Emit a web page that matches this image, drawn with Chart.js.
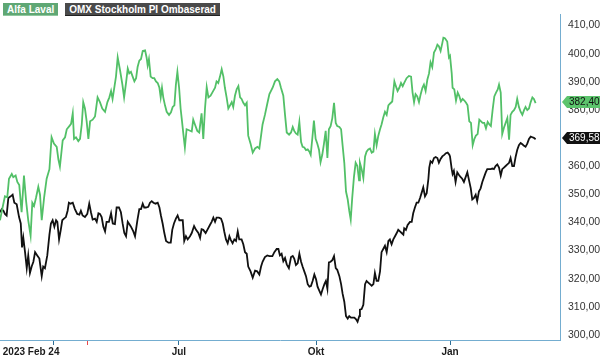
<!DOCTYPE html>
<html><head><meta charset="utf-8">
<script src="https://cdn.jsdelivr.net/npm/chart.js@4.4.1/dist/chart.umd.min.js"></script>
<style>
html,body{margin:0;padding:0;background:#fff;}
#wrap{position:relative;width:600px;height:358px;overflow:hidden;}
#legend{position:absolute;left:3px;top:3px;display:flex;gap:7px;font:bold 10px "Liberation Sans",Arial,sans-serif;}
#legend span{display:block;height:13px;line-height:13px;padding:0 4px;color:#fff;box-sizing:border-box;}
</style></head><body>
<div id="wrap"><canvas id="c" width="600" height="358"></canvas><div id="legend"></div></div>
<script>
const seriesNames = ['Alfa Laval', 'OMX Stockholm PI Ombaserad'];

// trading sessions (x) and closing values (y)
const alfaSessions = [0.0,1.2,2.3,3.4,4.2,5.5,6.2,7.3,8.1,9.0,10.1,11.2,12.2,13.2,14.3,15.1,15.9,16.8,17.9,18.7,19.5,20.6,21.8,23.1,24.1,25.2,26.5,27.3,28.0,29.3,30.4,31.2,32.4,33.2,34.0,34.6,35.5,36.6,37.4,38.2,38.9,39.7,40.5,41.3,42.1,43.3,44.4,
44.9,45.6,46.7,47.8,49.1,50.2,51.1,51.9,52.6,53.4,54.2,55.0,56.1,57.2,58.0,58.9,59.7,60.4,61.2,62.0,62.8,63.6,64.3,65.1,65.9,66.7,67.8,68.5,69.0,69.6,70.4,71.3,72.1,72.9,73.7,74.5,75.1,75.7,76.3,77.1,77.9,79.0,79.9,80.7,81.5,82.2,82.9,83.7,84.4,
84.9,85.7,86.4,87.2,88.3,89.6,90.3,91.1,92.2,93.1,94.2,95.0,95.8,96.6,97.4,98.4,99.4,100.5,101.2,102.0,102.8,103.6,104.4,105.1,105.9,106.7,107.5,108.3,109.0,109.8,110.6,111.4,112.2,112.9,113.7,114.5,115.3,116.0,117.1,118.1,119.2,120.3,121.2,122.0,122.7,123.8,124.9,125.9,
127.4,128.5,129.6,130.5,131.3,132.4,133.2,134.0,135.1,136.0,136.8,137.5,138.3,139.1,139.9,140.7,141.4,142.2,143.0,143.8,144.6,145.2,146.0,146.7,147.5,148.3,149.1,149.8,150.6,151.4,152.2,153.0,153.7,154.5,155.3,156.1,156.9,157.6,158.6,159.4,160.1,160.9,161.7,162.5,163.2,163.9,164.6,165.4,166.2,167.0,167.8,
168.2,169.0,169.8,170.6,171.3,172.1,172.9,173.7,174.5,175.2,176.0,176.8,177.6,178.3,179.1,179.9,180.7,181.5,182.2,183.3,184.3,185.0,185.8,186.6,187.4,188.2,188.9,190.0,191.1,192.1,192.8,193.5,194.2,195.0,195.8,196.6,197.4,198.1,198.9,199.7,200.5,201.2,202.0,202.8,203.6,204.4,205.1,205.9,206.7,207.2,207.9,209.0,209.8,
210.3,211.1,211.5,212.3,213.1,213.9,214.6,215.4,216.2,217.0,217.8,218.5,219.3,220.1,220.9,221.7,222.4,223.2,224.0,224.8,225.5,226.3,227.1,227.9,228.7,229.4,230.2,231.0,231.8,232.6,233.2,234.0,234.7,235.5,236.3,237.1,237.9,238.6,239.4,240.2,241.0,241.7,242.5,243.3,244.1,244.9,245.6,246.4,247.2,248.0,248.8,249.5,250.3];
const alfaLaval = [340.77,345.31,349.28,348.94,355.53,357.23,356.09,356.66,354.39,353.26,343.61,356.66,347.58,340.77,335.32,347.01,345.88,348.71,352.69,349.85,340.77,348.71,355.53,358.93,370.28,368.01,366.88,362.34,359.84,369.15,370.28,373.12,374.26,375.05,378.80,369.72,370.28,368.92,369.72,374.82,382.77,380.50,375.96,369.72,375.96,376.53,377.66,
380.50,384.47,382.77,380.50,379.36,382.77,384.47,386.74,383.91,387.88,391.85,398.66,394.12,389.01,384.47,389.58,394.69,392.99,393.55,391.85,390.15,391.28,395.26,397.53,398.10,400.93,401.16,398.66,395.83,398.10,391.85,391.28,391.28,390.15,389.58,387.88,384.47,387.88,384.47,381.64,379.36,378.23,379.14,381.07,381.64,389.01,393.55,387.88,380.50,
377.09,371.42,366.65,373.12,372.78,372.33,376.53,374.82,372.55,371.99,378.80,369.72,380.50,388.11,384.47,385.04,386.40,387.88,390.15,389.58,391.85,394.46,391.85,387.88,384.47,380.50,381.64,382.77,381.07,385.04,387.31,388.45,384.47,383.91,382.54,381.64,382.54,370.85,368.01,364.83,366.31,366.88,366.31,370.85,374.82,378.23,382.20,385.61,
387.88,390.15,390.94,390.15,387.88,385.04,378.23,371.99,371.19,371.99,373.92,372.55,371.65,371.19,375.73,368.58,366.88,366.65,365.74,365.97,365.17,364.04,370.28,376.19,369.72,368.01,365.74,361.43,364.04,368.01,372.55,362.90,373.12,374.26,377.09,382.54,375.39,374.26,373.92,373.12,367.45,361.20,350.98,348.15,344.17,341.00,348.71,356.09,361.20,360.07,354.96,
361.20,358.93,355.75,363.47,365.17,365.97,366.31,364.83,365.17,371.42,367.45,370.85,373.12,374.82,377.32,379.36,378.23,381.64,382.20,383.00,390.15,388.45,386.74,387.88,389.58,388.45,389.58,391.28,392.08,391.85,386.18,382.77,385.61,384.81,382.77,385.61,387.88,389.01,386.74,390.72,392.99,396.96,395.26,400.37,401.50,403.20,402.64,400.93,403.77,405.70,405.47,404.34,398.66,
399.23,392.99,387.88,387.31,383.34,386.18,385.04,383.00,383.91,383.34,382.54,381.64,375.96,375.39,367.45,369.72,370.85,371.42,376.53,375.96,375.39,375.39,373.46,375.73,374.82,374.26,379.93,384.81,386.18,387.31,389.01,386.18,371.42,373.69,375.39,377.09,369.38,378.23,379.36,379.93,381.07,383.91,381.07,379.36,378.23,379.93,381.07,379.93,380.50,382.77,384.47,383.91,382.40];

const omxSessions = [0.0,0.8,1.6,2.3,3.1,3.9,5.0,5.9,6.7,7.8,8.9,9.7,10.3,10.9,11.7,12.5,13.2,14.0,14.8,15.6,16.4,17.4,18.4,19.5,20.2,21.0,22.1,23.1,23.8,24.6,25.4,26.2,26.8,27.6,28.4,29.1,29.9,30.8,31.6,32.2,33.0,34.0,35.0,36.1,37.1,37.8,38.6,39.7,40.8,41.7,42.5,43.3,44.4,
45.2,46.0,46.7,47.5,48.3,49.1,49.8,50.9,51.9,52.7,53.7,54.5,55.6,56.5,57.3,58.1,58.9,59.7,60.4,61.2,62.3,63.1,64.2,65.1,65.9,66.7,67.4,68.2,69.3,70.1,70.9,71.7,72.7,73.7,74.5,75.2,76.0,76.8,77.6,78.7,79.8,80.5,81.3,82.2,83.0,83.8,
85.4,86.1,86.9,87.7,88.8,89.6,90.7,91.6,92.7,93.5,94.2,95.0,96.1,96.9,98.1,98.9,99.7,100.5,101.2,102.3,103.3,104.1,104.8,105.6,106.4,107.2,107.9,108.7,109.5,110.3,111.1,111.8,112.9,113.7,114.5,115.3,116.0,117.1,118.1,119.2,120.2,121.2,122.0,122.7,123.8,124.9,125.9,
127.3,128.2,129.3,130.1,130.8,131.6,132.4,133.2,134.0,135.0,136.0,136.8,137.5,138.3,139.1,139.9,140.7,141.4,142.2,143.0,143.8,144.6,145.3,146.1,146.9,147.7,148.4,149.2,150.0,150.8,151.6,152.3,153.0,153.7,154.5,155.3,156.1,156.9,157.6,158.6,159.4,160.1,160.9,161.7,162.5,163.2,164.0,164.8,165.6,166.4,167.1,167.9,
168.2,169.0,169.8,170.6,171.3,172.1,172.9,173.7,174.5,175.2,176.0,176.8,177.6,178.3,179.1,179.9,180.7,181.5,182.2,183.0,183.8,184.6,185.4,186.1,186.9,187.7,188.5,188.9,189.7,190.5,191.6,192.4,193.1,193.9,194.7,195.5,196.3,197.0,197.8,198.6,199.4,200.2,200.6,201.2,202.0,202.8,203.6,204.4,205.1,205.9,206.7,207.6,208.4,209.2,210.0,
210.3,211.1,211.5,212.1,212.9,213.7,214.5,215.3,216.0,216.8,217.6,218.4,219.2,220.0,220.7,221.5,222.3,223.0,223.8,224.6,225.4,226.2,227.0,227.7,228.5,229.3,230.1,230.8,231.6,232.4,233.2,234.0,234.7,235.5,236.3,237.1,237.9,238.6,239.4,240.2,241.0,241.7,242.5,243.3,244.1,244.9,245.6,246.4,247.2,248.0,248.8,249.5,250.3];
const omxRebased = [343.61,344.74,344.17,343.04,342.47,348.71,349.28,349.85,347.01,346.44,341.90,339.63,331.12,334.52,329.42,323.74,328.28,322.04,324.31,326.01,329.42,328.28,327.15,320.90,324.31,323.74,328.28,335.66,339.63,340.77,338.50,340.77,340.20,333.96,337.36,340.77,341.34,341.90,344.17,347.01,346.67,347.01,344.74,343.04,342.81,344.17,342.47,341.90,343.04,346.67,343.61,341.00,341.34,
340.20,343.27,343.04,341.90,338.50,336.79,340.20,340.20,343.27,339.63,339.41,345.31,345.31,343.61,339.63,336.23,335.09,340.20,339.41,338.50,336.79,335.09,340.77,344.74,344.74,346.67,345.31,345.31,345.54,347.01,347.58,347.01,346.67,347.01,345.31,342.47,339.63,336.23,333.39,332.82,332.82,337.36,339.63,341.34,342.47,340.77,
340.77,333.39,335.09,333.96,335.09,336.23,338.72,337.36,336.23,334.52,337.59,337.36,336.23,337.36,339.07,340.20,341.68,340.20,341.68,341.68,341.34,339.63,336.79,333.96,332.59,335.09,333.73,332.59,333.96,333.39,336.79,333.96,333.96,332.25,329.42,328.85,324.31,322.60,320.33,322.83,322.60,321.47,324.31,326.01,327.71,328.28,328.05,
328.05,329.42,330.55,330.55,328.28,328.85,326.24,327.37,325.10,323.74,327.71,328.05,327.15,324.88,325.44,328.85,326.01,324.31,322.60,320.90,318.06,317.16,317.38,319.20,321.47,319.77,317.16,315.79,314.43,316.36,318.06,319.20,316.36,325.78,326.01,326.58,328.05,323.74,323.17,320.90,318.06,314.66,311.82,306.71,305.80,306.71,306.14,306.14,306.14,305.58,304.67,306.71,
308.98,309.21,310.69,318.06,319.20,318.63,318.06,317.50,318.06,322.04,319.20,319.20,322.60,329.42,330.55,331.69,329.42,333.39,333.96,332.25,333.96,335.09,336.23,337.36,336.79,336.23,335.66,337.93,337.36,339.07,340.20,340.20,343.27,345.31,347.01,347.01,348.71,350.42,352.46,349.28,350.42,355.53,359.50,361.77,361.20,362.90,363.24,362.90,361.20,362.56,363.47,364.04,364.61,364.83,364.04,
363.47,358.93,357.23,358.36,354.39,357.80,356.89,356.09,355.53,354.39,356.09,357.80,354.96,352.12,348.15,348.71,349.85,347.58,350.98,352.12,354.39,356.09,357.80,358.93,358.93,358.93,359.16,358.93,360.07,360.63,359.50,356.66,358.93,359.50,360.07,360.63,361.20,362.90,360.07,360.07,363.47,365.74,367.45,368.24,367.79,367.22,366.88,368.01,369.72,370.51,370.28,370.06,369.58];

const xTickSessions = [25.2, 83.6, 147.7, 210.3];
const xTickLabels = ['2023 Feb 24', 'Jul', 'Okt', 'Jan'];
const markerSessions = [40.7];
const yTickValues = [300, 310, 320, 330, 340, 350, 360, 370, 380, 390, 400, 410];

const FONT = '"Liberation Sans", Arial, sans-serif';
const lineColors = ['#52c067', '#111111'];
const legendColors = ['#5fa774', '#4a4a4a'];
const tagColors = ['#5cc46c', '#111111'];
const tagText = ['#111111', '#ffffff'];

const fmt = v => v.toFixed(2).replace('.', ',');

const overlay = {
  id: 'overlay',
  afterDraw(chart) {
    const ctx = chart.ctx, xs = chart.scales.x, ys = chart.scales.y;
    ctx.save();
    ctx.font = 'bold 10px ' + FONT;
    ctx.fillStyle = '#1b1b1b';
    ctx.textBaseline = 'middle';
    ctx.textAlign = 'left';
    xTickSessions.forEach((s, i) => {
      const t = xTickLabels[i];
      const words = t.split(' ');
      const lastW = ctx.measureText(words[words.length - 1]).width;
      const w = ctx.measureText(t).width;
      // the last word (day or month) is centred on its tick
      let x = xs.getPixelForValue(s) + lastW / 2 - w;
      x = Math.max(2, Math.min(chart.width - w - 2, x));
      ctx.fillText(t, x, xs.bottom - 6);
    });
    // last value tags
    ctx.font = '10px ' + FONT;
    chart.data.datasets.forEach((ds, i) => {
      const last = ds.data[ds.data.length - 1].y;
      const y = Math.round(ys.getPixelForValue(last)) - 1;
      const x0 = chart.chartArea.right + 2;
      ctx.fillStyle = tagColors[i];
      ctx.beginPath();
      ctx.moveTo(x0, y);
      ctx.lineTo(x0 + 5, y - 6);
      ctx.lineTo(chart.width, y - 6);
      ctx.lineTo(chart.width, y + 6);
      ctx.lineTo(x0 + 5, y + 6);
      ctx.closePath();
      ctx.fill();
      ctx.fillStyle = tagText[i];
      ctx.fillText(fmt(last), x0 + 7, y + 0.5);
    });
    ctx.restore();
  }
};

const chart = new Chart(document.getElementById('c'), {
  type: 'line',
  data: {
    datasets: [
      { label: seriesNames[0], data: alfaSessions.map((s, i) => ({ x: s, y: alfaLaval[i] })),
        borderColor: lineColors[0], borderWidth: 1.8, pointRadius: 0, tension: 0, fill: false },
      { label: seriesNames[1], data: omxSessions.map((s, i) => ({ x: s, y: omxRebased[i] })),
        borderColor: lineColors[1], borderWidth: 1.8, pointRadius: 0, tension: 0, fill: false }
    ]
  },
  options: {
    responsive: false,
    animation: false,
    devicePixelRatio: 1,
    layout: { padding: 0 },
    plugins: { legend: { display: false }, tooltip: { enabled: false } },
    scales: {
      x: {
        type: 'linear', position: 'bottom', min: 0, max: 261.7,
        afterBuildTicks: sc => { sc.ticks = xTickSessions.concat(markerSessions).map(v => ({ value: v })); },
        afterFit: sc => { sc.height = 18; },
        ticks: { display: false },
        grid: { display: true, drawOnChartArea: false, drawTicks: true, tickLength: 5, lineWidth: 1,
          color: '#2f6f96',
          tickColor: c => (c.tick && markerSessions.includes(c.tick.value)) ? '#e8474c' : '#2f6f96' },
        border: { display: true, color: '#74add0', width: 1 }
      },
      y: {
        position: 'right', min: 298.2, max: 414.0,
        afterBuildTicks: sc => { sc.ticks = yTickValues.map(v => ({ value: v })); },
        afterFit: sc => { sc.width = 40; },
        grid: { display: false, drawTicks: false },
        border: { display: true, color: '#74add0', width: 1 },
        ticks: { padding: 8, color: '#333333', font: { size: 10.5, family: FONT }, callback: v => fmt(v) }
      }
    }
  },
  plugins: [overlay]
});

const legend = document.getElementById('legend');
chart.data.datasets.forEach((ds, i) => {
  const el = document.createElement('span');
  el.textContent = ds.label;
  el.style.background = legendColors[i];
  el.style.borderBottom = '1px solid ' + (i === 0 ? '#8fc79d' : '#222');
  legend.appendChild(el);
});
</script>
</body></html>
